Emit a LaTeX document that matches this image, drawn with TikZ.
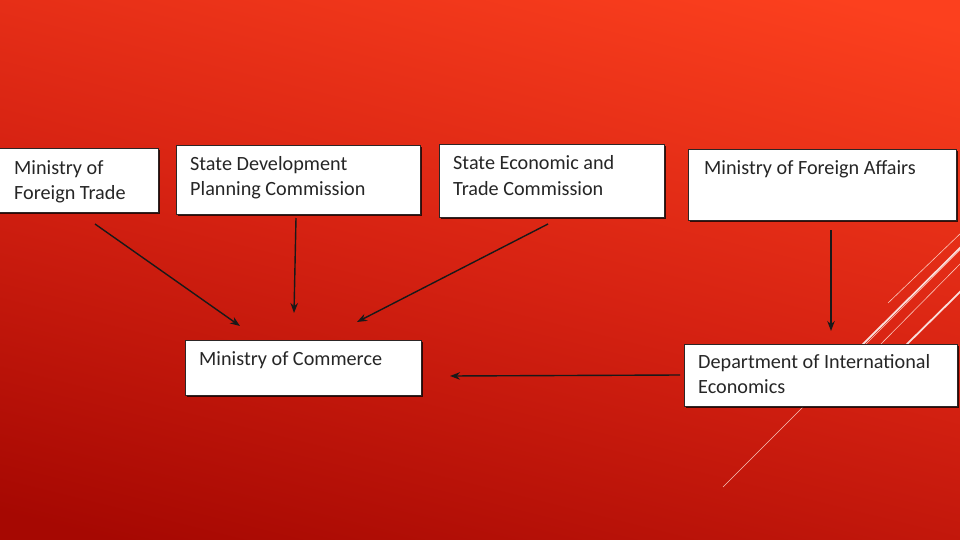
\documentclass[tikz,border=0pt]{standalone}
\usepackage{fontspec}
\setmainfont{Carlito}
\usetikzlibrary{calc,arrows.meta,shadows}
\definecolor{bgtop}{RGB}{252,64,30}
\definecolor{bgmid}{RGB}{214,34,18}
\definecolor{bgbot}{RGB}{166,8,2}
\definecolor{boxline}{RGB}{45,38,38}
\definecolor{txt}{RGB}{38,38,38}
\definecolor{deco}{RGB}{255,225,215}
\tikzset{
  orgbox/.style={draw=boxline, line width=1.1pt, fill=white, inner sep=0pt, anchor=north west,
    drop shadow={shadow xshift=1.6pt, shadow yshift=-1.6pt, fill=black, opacity=0.75}},
  lbl/.style={anchor=base west, inner sep=0pt, text=txt, font=\fontsize{20.2}{25}\selectfont},
  flow/.style={-{Stealth[length=10pt,width=7.5pt]}, line width=1.4pt, draw=black!90},
  decothin/.style={draw=deco, line width=0.6pt, opacity=0.85},
  decothick/.style={draw=white, line width=1.8pt, opacity=0.85}
}
\newcommand{\lines}[1]{\begin{tabular}[t]{@{}l@{}}#1\end{tabular}}
\begin{document}
\begin{tikzpicture}[x=1pt,y=-1pt]
\useasboundingbox (0,0) rectangle (960,540);
\shade[top color=bgtop, bottom color=bgbot, middle color=bgmid, shading angle=-14] (-40,-40) rectangle (1000,580);

% decorative lines
\draw[decothin] (723,487) -- (962,248);
\draw[decothick] (857,350) -- (962,246);
\draw[decothin] (875,350) -- (962,262);
\draw[decothin] (888,303) -- (962,232);
\draw[decothick] (901,350) -- (962,290);

% boxes
\node[orgbox, minimum width=160pt, minimum height=64pt] (mft) at (-2,148) {};
\node[orgbox, minimum width=244pt, minimum height=69pt] (sdpc) at (176,145) {};
\node[orgbox, minimum width=225pt, minimum height=73pt] (setc) at (439,144) {};
\node[orgbox, minimum width=268pt, minimum height=71pt] (mfa) at (688,149) {};
\node[orgbox, minimum width=236pt, minimum height=55pt] (moc) at (185,340) {};
\node[orgbox, minimum width=273pt, minimum height=62pt] (die) at (684,344) {};

% labels
\node[lbl] (t1) at (14,175) {\lines{Ministry of\\Foreign Trade}};
\node[lbl] (t2) at (190,171) {\lines{State Development\\Planning Commission}};
\node[lbl] (t3) at (453,170) {\lines{State Economic and\\Trade Commission}};
\node[lbl] (t4) at (704,175) {Ministry of Foreign Affairs};
\node[lbl] (t5) at (199,365) {Ministry of Commerce};
\node[lbl] (t6) at (698,368) {\lines{Department of International\\Economics}};

% arrow end points
\coordinate (a1s) at (95,224);  \coordinate (a1e) at (240,326);
\coordinate (a2s) at (296,218); \coordinate (a2e) at (294,313);
\coordinate (a3s) at (548,224); \coordinate (a3e) at (357,322);
\coordinate (a4s) at (831,230); \coordinate (a4e) at (831,331);
\coordinate (a5s) at (680,375); \coordinate (a5e) at (450,376);

\draw[flow] (a1s) -- (a1e);
\draw[flow] (a2s) -- (a2e);
\draw[flow] (a3s) -- (a3e);
\draw[flow] (a4s) -- (a4e);
\draw[flow] (a5s) -- (a5e);
\end{tikzpicture}
\end{document}
